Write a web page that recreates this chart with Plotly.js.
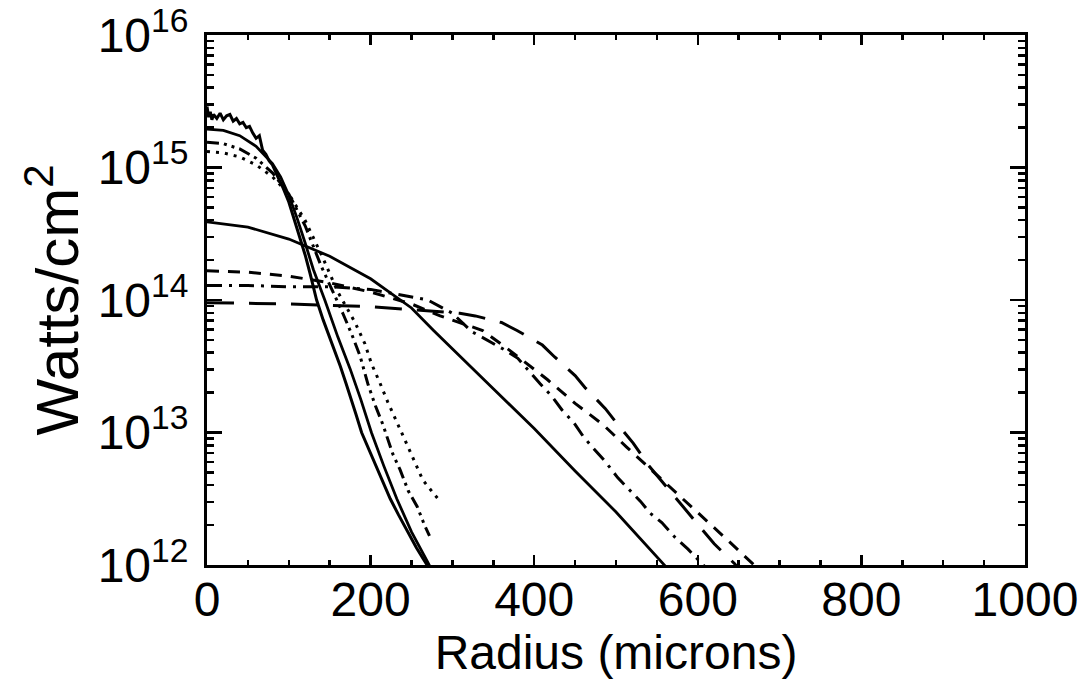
<!DOCTYPE html>
<html>
<head>
<meta charset="utf-8">
<script src="https://cdn.plot.ly/plotly-3.0.1.min.js"></script>
<style>html,body{margin:0;padding:0;background:#fff;}#chart{width:1088px;height:684px;}</style>
</head>
<body>
<div id="chart"></div>
<script>
// Radius (microns) and log10(Watts/cm^2)
const measuredR = [0,2,4,6,8,12,16,20,24,28,32,36,40,44,48,52,56,60,64,68,72,76,80,84,88,92,96,100,104,108,112,116,120,126,134,142,150,156,163,170,175,182,189,196,205,214,224,234,245,256,265,272];
const measuredLog = [15.46,15.38,15.42,15.36,15.40,15.37,15.41,15.36,15.39,15.40,15.35,15.37,15.33,15.34,15.30,15.31,15.26,15.22,15.24,15.13,15.10,15.05,15.02,14.96,14.91,14.86,14.80,14.74,14.66,14.58,14.50,14.42,14.34,14.20,14.00,13.85,13.72,13.62,13.50,13.37,13.28,13.14,13.00,12.90,12.77,12.64,12.50,12.38,12.25,12.13,12.04,11.97];

const fitNarrowR = [0,20,40,60,80,90,100,110,120,130,144,160,175,188,201,216,232,250,270,274];
const fitNarrowLog = [15.29,15.28,15.24,15.16,15.03,14.93,14.79,14.62,14.43,14.23,14.00,13.72,13.48,13.25,13.00,12.75,12.50,12.25,12.02,11.97];

const dottedR = [0,20,40,60,80,100,120,140,160,181,193,201,211,221,232,242,252,264,277,285];
const dottedLog = [15.12,15.11,15.08,15.02,14.93,14.80,14.60,14.34,14.06,13.83,13.67,13.52,13.38,13.23,13.08,12.94,12.81,12.64,12.54,12.48];

const dashDot3R = [0,20,40,60,80,100,120,140,166,177,187,197,206,215,227,236,246,257,266,272];
const dashDot3Log = [15.19,15.18,15.14,15.07,14.96,14.80,14.56,14.25,13.90,13.74,13.58,13.36,13.20,13.06,12.84,12.72,12.56,12.44,12.30,12.22];

const solidBroadR = [0,50,100,150,200,250,277,300,350,400,431,450,500,556,562];
const solidBroadLog = [14.59,14.55,14.46,14.33,14.16,13.94,13.77,13.63,13.33,13.03,12.83,12.71,12.40,12.02,11.98];

const dashedR = [0,50,100,150,200,250,285,310,337,370,416,450,484,513,550,600,636,667,672];
const dashedLog = [14.22,14.21,14.18,14.13,14.06,13.97,13.88,13.83,13.77,13.62,13.40,13.22,13.06,12.89,12.68,12.40,12.19,12.01,11.98];

const dashDotR = [0,50,100,154,200,236,270,300,324,336,362,380,394,407,422,434,449,460,471,487,502,515,530,542,556,572,588,605,610];
const dashDotLog = [14.11,14.11,14.10,14.10,14.08,14.04,14.00,13.90,13.76,13.72,13.63,13.56,13.46,13.37,13.27,13.17,13.07,12.97,12.89,12.78,12.66,12.58,12.48,12.39,12.32,12.21,12.12,12.01,11.98];

const longDashR = [0,100,200,273,309,328,360,379,410,425,450,462,487,501,521,540,566,590,620,645,650];
const longDashLog = [13.98,13.97,13.95,13.92,13.90,13.88,13.83,13.77,13.66,13.57,13.43,13.34,13.18,13.07,12.92,12.75,12.56,12.38,12.16,12.01,11.97];

const yTickVals = [1e12,1e13,1e14,1e15,1e16];
const yTickExp = ['12','13','14','15','16'];
const xTickVals = [0,200,400,600,800,1000];

const pow10 = a => a.map(v => Math.pow(10, v));

function tr(x, ylog, dash, width) {
  return {x: x, y: pow10(ylog), type: 'scatter', mode: 'lines',
    line: {color: '#000', width: width, dash: dash}, hoverinfo: 'skip'};
}

const traces = [
  tr(measuredR, measuredLog, 'solid', 3),
  tr(fitNarrowR, fitNarrowLog, 'solid', 2.8),
  tr(dottedR, dottedLog, '3px,6px', 3),
  tr(dashDot3R, dashDot3Log, '12px,5px,3px,5px,3px,5px', 3),
  tr(solidBroadR, solidBroadLog, 'solid', 2.8),
  tr(dashedR, dashedLog, '12px,9px', 3),
  tr(dashDotR, dashDotLog, '15px,7px,3px,7px', 3),
  tr(longDashR, longDashLog, '27px,15px', 3)
];

const fam = 'Liberation Sans, Arial, sans-serif';

const layout = {
  width: 1088, height: 684,
  margin: {l: 207, r: 63, t: 35, b: 119},
  paper_bgcolor: '#fff', plot_bgcolor: '#fff',
  showlegend: false,
  font: {family: fam, size: 40, color: '#000'},
  xaxis: {
    range: [0, 1000], tickvals: xTickVals, ticktext: xTickVals.map(String),
    ticks: 'inside', ticklen: 10, tickwidth: 2.5, tickcolor: '#000',
    showline: true, linewidth: 3, linecolor: '#000', mirror: 'ticks',
    showgrid: false, zeroline: false,
    tickfont: {family: fam, size: 48, color: '#000'},
    ticklabelstandoff: -10,
    ticklabeloverflow: 'allow',
    minor: {dtick: 50, ticks: 'inside', ticklen: 5, tickwidth: 2.5, tickcolor: '#000', showgrid: false},
    title: {text: 'Radius (microns)', font: {family: fam, size: 48, color: '#000'}, standoff: 4}
  },
  yaxis: {
    type: 'log', range: [12, 16], tickvals: yTickVals,
    ticktext: yTickExp.map(e => '10<sup>' + e + '</sup>'),
    ticks: 'inside', ticklen: 15, tickwidth: 2.5, tickcolor: '#000',
    showline: true, linewidth: 3, linecolor: '#000', mirror: 'ticks',
    showgrid: false, zeroline: false,
    tickfont: {family: fam, size: 48, color: '#000'},
    ticklabelstandoff: 6,
    ticklabeloverflow: 'allow',
    minor: {dtick: 'D1', ticks: 'inside', ticklen: 7, tickwidth: 2.5, tickcolor: '#000', showgrid: false},
    title: {text: 'Watts/cm<sup>2</sup>', font: {family: fam, size: 60, color: '#000'}, standoff: 0}
  }
};

Plotly.newPlot('chart', traces, layout, {staticPlot: true, displayModeBar: false});
</script>
</body>
</html>
